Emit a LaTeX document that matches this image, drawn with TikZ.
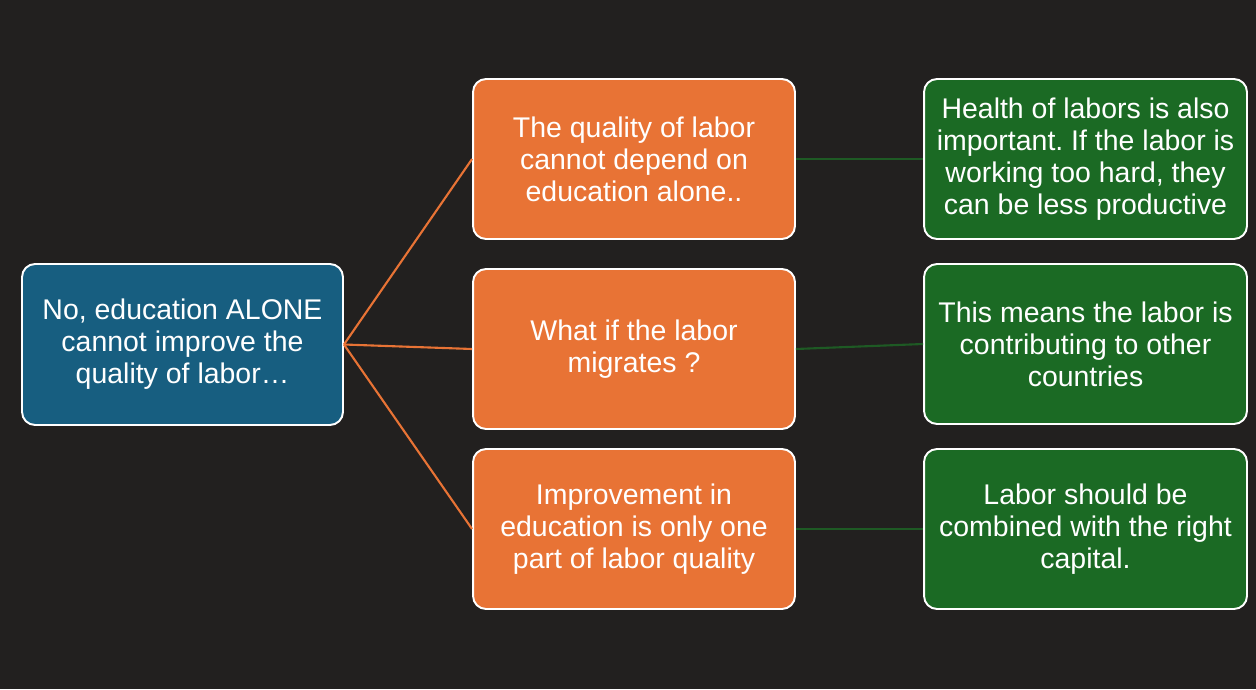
\documentclass[tikz,border=0pt]{standalone}
\usepackage{fontspec}
\setmainfont{Liberation Sans}
\usetikzlibrary{positioning}
\definecolor{bgdark}{RGB}{34,32,31}
\definecolor{rootblue}{RGB}{23,94,128}
\definecolor{midorange}{RGB}{232,115,53}
\definecolor{leafgreen}{RGB}{27,106,36}
\definecolor{linkgreen}{RGB}{30,90,36}
\frenchspacing

\begin{document}
\begin{tikzpicture}[x=0.02cm, y=-0.02cm,
        box/.style={draw=white, line width=1.1pt, rounded corners=0.26cm,
            text=white, align=center, inner sep=0pt,
            font=\fontsize{16.2}{18.2}\selectfont},
        rootbox/.style={box, fill=rootblue, minimum width=6.42cm, minimum height=3.22cm},
        midbox/.style={box, fill=midorange, minimum width=6.44cm, minimum height=3.2cm},
        leafbox/.style={box, fill=leafgreen, minimum width=6.46cm, minimum height=3.2cm},
        midlink/.style={draw=midorange, line width=1.2pt},
        leaflink/.style={draw=linkgreen, line width=1.2pt}]
        % Background
        \fill[bgdark] (0,0) rectangle (1256,689);

        % Root
        \node[rootbox] (root) at (182.5,344.5) {No, education ALONE\\cannot improve the\\quality of labor\ldots};

        % Middle column
        \node[midbox] (q1) at (634,159) {The quality of labor\\cannot depend on\\education alone..};
        \node[midbox] (q2) at (634,349) {What if the labor\\migrates ?};
        \node[midbox] (q3) at (634,529) {Improvement in\\education is only one\\part of labor quality};

        % Right column
        \node[leafbox] (h1) at (1085.5,159) {Health of labors is also\\important. If the labor is\\working too hard, they\\can be less productive};
        \node[leafbox] (h2) at (1085.5,344) {This means the labor is\\contributing to other\\countries};
        \node[leafbox] (h3) at (1085.5,529) {Labor should be\\combined with the right\\capital.};

        % Links
        \draw[midlink] (root.east) -- (q1.west);
        \draw[midlink] (root.east) -- (q2.west);
        \draw[midlink] (root.east) -- (q3.west);
        \draw[leaflink] (q1.east) -- (h1.west);
        \draw[leaflink] (q2.east) -- (h2.west);
        \draw[leaflink] (q3.east) -- (h3.west);
    \end{tikzpicture}
\end{document}
